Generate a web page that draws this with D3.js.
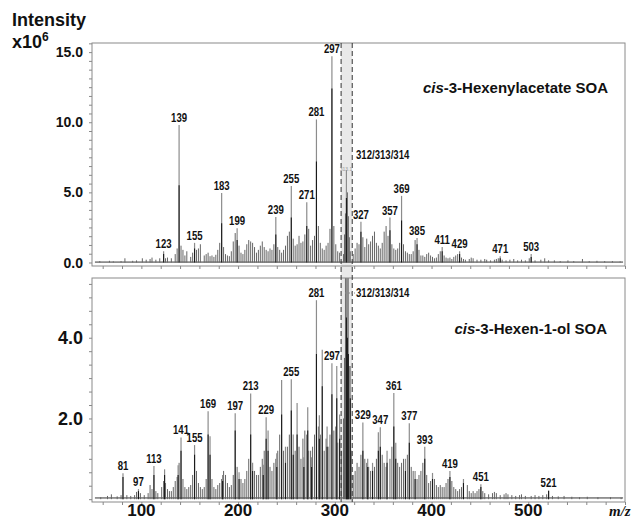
<!DOCTYPE html>
<html>
<head>
<meta charset="utf-8">
<script src="https://cdn.jsdelivr.net/npm/d3@7"></script>
<style>
  body { margin: 0; background: #fff; }
  svg { display: block; font-family: "Liberation Sans", Arial, sans-serif; }
  .plab { font-family: "Liberation Sans", Arial, sans-serif; font-weight: bold; font-size: 12px; fill: #111; }
</style>
</head>
<body>
<div id="chart"></div>
<script>
// m/z axis
var xDomain = [50, 600];
var xLabels = [100, 200, 300, 400, 500];
var topYLabels = [0, 5, 10, 15];
var botYLabels = [2, 4];
var bandMz = [306.5, 318];

// top panel: cis-3-Hexenylacetate SOA  [m/z, grey trace, black trace]
var topMain = [
  [123, 0.8, 0.6], [139, 9.8, 5.5], [155, 1.4, 1.0], [183, 4.95, 2.8], [199, 2.45, 1.6],
  [239, 3.25, 2.0], [255, 5.45, 3.2], [271, 4.3, 2.6], [281, 10.2, 7.2], [297, 14.7, 12.4],
  [312, 6.6, 4.6], [327, 2.9, 2.2], [357, 3.2, 2.3], [369, 4.75, 3.0], [385, 1.75, 1.3],
  [411, 1.1, 0.8], [429, 0.8, 0.6], [471, 0.45, 0.3], [503, 0.6, 0.4]
];
var topLabels = [123, 139, 155, 183, 199, 239, 255, 271, 281, 297, 327, 357, 369, 385, 411, 429, 471, 503];
var topMinor = [
  [57, 0.1], [67, 0.12], [71, 0.08], [79, 0.1], [83, 0.3], [91, 0.12], [95, 0.15], [101, 0.3],
  [105, 0.2], [109, 0.25], [111, 0.35], [115, 0.2], [119, 0.3], [125, 0.3], [127, 0.35], [131, 0.3],
  [135, 0.6], [137, 1.0], [141, 1.2], [143, 0.9], [145, 0.5], [147, 0.8], [151, 0.4], [153, 0.7],
  [157, 0.9], [159, 1.0], [161, 1.3], [165, 0.5], [167, 0.6], [169, 0.7], [171, 0.45], [173, 0.5],
  [175, 0.4], [177, 0.55], [179, 0.9], [181, 1.4], [185, 1.1], [187, 0.6], [189, 0.5], [191, 0.45],
  [193, 0.8], [195, 1.5], [197, 2.1], [201, 1.2], [203, 0.7], [205, 0.6], [207, 0.9], [209, 1.3],
  [211, 1.6], [213, 1.5], [215, 1.4], [217, 1.1], [219, 0.7], [221, 0.9], [223, 1.2], [225, 1.5],
  [227, 1.1], [229, 0.9], [231, 0.8], [233, 1.0], [235, 0.9], [237, 1.3], [241, 1.1], [243, 0.9],
  [245, 0.7], [247, 0.9], [249, 1.2], [251, 1.9], [253, 2.2], [257, 1.7], [259, 1.2], [261, 1.3],
  [263, 1.9], [265, 1.4], [267, 1.5], [269, 2.0], [273, 2.4], [275, 1.2], [277, 1.6], [279, 1.9],
  [283, 2.6], [285, 1.4], [287, 1.0], [289, 0.9], [291, 1.2], [293, 1.4], [295, 2.4], [299, 2.6],
  [301, 1.3], [303, 0.8], [305, 0.7], [309, 0.6], [310, 2.0], [311, 3.5], [313, 5.0], [314, 3.3],
  [315, 1.8], [316, 0.8], [319, 0.6], [321, 1.0], [323, 1.4], [325, 1.3], [329, 1.8], [331, 1.1],
  [333, 1.7], [335, 1.3], [337, 1.5], [339, 1.9], [341, 2.2], [343, 1.4], [345, 1.2], [347, 1.0],
  [349, 1.4], [351, 2.2], [353, 2.6], [355, 1.9], [359, 1.3], [361, 1.0], [363, 0.9], [365, 1.0],
  [367, 1.4], [371, 1.3], [373, 0.8], [375, 0.7], [377, 0.6], [379, 0.6], [381, 0.8], [383, 1.6],
  [387, 0.9], [389, 0.5], [391, 0.5], [393, 0.4], [395, 0.6], [397, 0.7], [399, 0.5], [401, 0.4],
  [403, 0.3], [405, 0.35], [407, 0.6], [409, 0.8], [413, 0.5], [415, 0.35], [417, 0.3], [419, 0.35],
  [421, 0.25], [423, 0.4], [425, 0.5], [427, 0.6], [431, 0.35], [433, 0.25], [435, 0.2], [439, 0.25],
  [441, 0.35], [443, 0.3], [447, 0.2], [451, 0.2], [455, 0.25], [457, 0.2], [461, 0.15], [465, 0.2],
  [467, 0.25], [469, 0.3], [473, 0.2], [477, 0.15], [481, 0.2], [485, 0.25], [489, 0.15], [493, 0.2],
  [497, 0.15], [501, 0.3], [507, 0.15], [513, 0.2], [517, 0.3], [521, 0.15], [527, 0.15], [533, 0.1],
  [541, 0.15], [547, 0.1], [556, 0.25], [563, 0.1], [571, 0.12], [579, 0.1], [587, 0.1], [595, 0.08]
];

// bottom panel: cis-3-Hexen-1-ol SOA  [m/z, grey trace, black trace]
var botMain = [
  [81, 0.64, 0.55], [97, 0.25, 0.2], [113, 0.82, 0.6], [124, 0.74, 0.6], [138, 0.84, 0.6],
  [141, 1.53, 1.2], [155, 1.34, 1.1], [169, 2.18, 1.6], [171, 1.56, 1.1], [184, 0.6, 0.45],
  [197, 2.13, 1.7], [201, 0.67, 0.5], [213, 2.62, 1.6], [215, 0.9, 0.7], [226, 0.85, 0.6],
  [229, 2.03, 1.5], [231, 1.7, 1.2], [240, 1.14, 0.8], [245, 2.95, 2.1], [249, 1.3, 0.9],
  [255, 2.97, 2.2], [257, 1.6, 1.1], [261, 2.38, 1.6], [268, 1.04, 0.8], [272, 2.28, 1.7],
  [276, 1.04, 0.8], [281, 4.93, 3.6], [284, 2.08, 1.5], [287, 3.7, 2.8], [292, 1.8, 1.3],
  [297, 3.37, 2.6], [302, 3.3, 2.5], [305, 2.1, 1.5], [312, 7.0, 4.5], [313, 6.5, 4.0],
  [314, 6.0, 3.6], [316, 3.3, 2.5], [329, 1.9, 1.2], [334, 1.0, 0.8], [339, 0.9, 0.7],
  [345, 1.66, 1.2], [347, 1.78, 1.3], [354, 1.2, 0.9], [361, 2.63, 1.8], [363, 1.4, 1.0],
  [373, 1.0, 0.7], [377, 1.88, 1.4], [383, 0.7, 0.5], [393, 1.3, 1.0], [401, 0.65, 0.5],
  [419, 0.7, 0.55], [433, 0.5, 0.4], [451, 0.37, 0.3], [521, 0.22, 0.2]
];
var botLabels = [81, 97, 113, 141, 155, 169, 197, 213, 229, 255, 281, 297, 329, 347, 361, 377, 393, 419, 451, 521];
var botMinor = [
  [58, 0.05], [65, 0.08], [69, 0.12], [75, 0.07], [79, 0.1], [85, 0.1], [89, 0.08], [93, 0.1],
  [95, 0.18], [99, 0.15], [103, 0.1], [107, 0.15], [109, 0.35], [111, 0.25], [115, 0.2], [117, 0.15],
  [121, 0.3], [123, 0.45], [125, 0.4], [127, 0.25], [129, 0.2], [131, 0.2], [133, 0.3], [135, 0.45],
  [137, 0.55], [139, 0.9], [143, 0.5], [145, 0.3], [147, 0.25], [149, 0.3], [151, 0.35], [153, 0.6],
  [157, 0.7], [159, 0.4], [161, 0.3], [163, 0.25], [165, 0.3], [167, 0.5], [173, 0.5], [175, 0.3],
  [177, 0.25], [179, 0.35], [181, 0.4], [183, 0.5], [185, 0.7], [187, 0.6], [189, 0.4], [191, 0.3],
  [193, 0.35], [195, 0.6], [199, 0.8], [203, 0.5], [205, 0.4], [207, 0.5], [209, 0.7], [211, 1.0],
  [217, 0.7], [219, 0.6], [221, 0.6], [223, 0.8], [225, 1.0], [227, 1.2], [233, 0.8], [235, 0.7],
  [237, 0.9], [239, 1.0], [241, 1.2], [243, 1.6], [247, 1.2], [251, 1.3], [253, 1.6], [259, 1.2],
  [263, 1.3], [265, 1.0], [267, 1.5], [269, 1.7], [271, 1.6], [273, 1.2], [275, 1.2], [277, 1.3],
  [279, 1.6], [283, 1.8], [285, 1.6], [289, 1.2], [291, 1.5], [293, 1.3], [295, 1.6], [299, 1.7],
  [301, 1.8], [303, 1.4], [307, 1.2], [309, 2.0], [310, 3.5], [311, 5.5], [315, 3.3], [317, 1.2],
  [319, 0.6], [321, 0.7], [323, 0.9], [325, 0.8], [327, 1.1], [331, 1.0], [333, 0.9], [335, 0.8],
  [337, 0.7], [341, 0.8], [343, 1.0], [349, 1.1], [351, 0.9], [353, 0.8], [357, 1.0], [359, 1.3],
  [365, 0.9], [367, 0.8], [369, 0.9], [371, 1.0], [375, 1.1], [379, 0.8], [381, 0.7], [385, 0.5],
  [387, 0.6], [389, 0.7], [391, 0.9], [395, 0.6], [397, 0.4], [399, 0.45], [403, 0.5], [405, 0.35],
  [407, 0.3], [409, 0.35], [411, 0.3], [413, 0.3], [415, 0.4], [417, 0.5], [421, 0.45], [423, 0.3],
  [425, 0.25], [427, 0.2], [429, 0.25], [431, 0.3], [437, 0.35], [439, 0.2], [441, 0.15], [443, 0.2],
  [445, 0.15], [447, 0.2], [449, 0.25], [453, 0.2], [455, 0.15], [459, 0.12], [463, 0.15], [465, 0.18],
  [467, 0.15], [471, 0.1], [475, 0.12], [477, 0.15], [479, 0.12], [483, 0.1], [487, 0.08], [491, 0.1],
  [493, 0.12], [497, 0.08], [503, 0.08], [507, 0.1], [511, 0.08], [515, 0.1], [519, 0.12], [525, 0.08],
  [531, 0.07], [537, 0.08], [545, 0.06], [553, 0.05], [561, 0.06], [572, 0.05], [585, 0.05], [596, 0.04]
];

var svgWidth = 636, svgHeight = 521;
var left = 92, right = 625;

var svg = d3.select("#chart").append("svg")
    .attr("width", svgWidth)
    .attr("height", svgHeight);

var x = d3.scaleLinear().domain(xDomain).range([93, 625]);

var panels = [
  { top: 43, bottom: 266, y: d3.scaleLinear().domain([-0.25, 15.65]).range([266, 43]),
    main: topMain, minor: topMinor, labels: topLabels, yLabels: topYLabels, minorStep: 0.625,
    yFont: 14, title: "-3-Hexenylacetate SOA", titleX: 608, titleY: 93, tagY: 159 },
  { top: 278, bottom: 502, y: d3.scaleLinear().domain([-0.07, 5.48]).range([502, 278]),
    main: botMain, minor: botMinor, labels: botLabels, yLabels: botYLabels, minorStep: 1 / 3,
    yFont: 18, title: "-3-Hexen-1-ol SOA", titleX: 607, titleY: 334, tagY: 297 }
];

// shaded band across both panels
svg.append("rect")
    .attr("x", x(bandMz[0])).attr("y", 43)
    .attr("width", x(bandMz[1]) - x(bandMz[0]))
    .attr("height", 502 - 43)
    .attr("fill", "#e9e9e9");

panels.forEach(function(p, i) {
    var g = svg.append("g");
    var clipId = "clip" + i;
    g.append("clipPath").attr("id", clipId)
      .append("rect").attr("x", left).attr("y", p.top).attr("width", right - left).attr("height", p.bottom - p.top);

    var plot = g.append("g").attr("clip-path", "url(#" + clipId + ")");

    // baseline noise
    plot.append("line")
        .attr("x1", x(52)).attr("x2", x(598))
        .attr("y1", p.y(0.03)).attr("y2", p.y(0.03))
        .attr("stroke", "#333").attr("stroke-width", 1);

    // minor peaks
    plot.selectAll(".minor").data(p.minor).enter().append("line")
        .attr("x1", d => x(d[0])).attr("x2", d => x(d[0]))
        .attr("y1", p.y(0)).attr("y2", d => p.y(d[1]))
        .attr("stroke", "#666").attr("stroke-width", 1);

    // main peaks: grey trace then black trace on top
    plot.selectAll(".grey").data(p.main).enter().append("line")
        .attr("x1", d => x(d[0])).attr("x2", d => x(d[0]))
        .attr("y1", p.y(0)).attr("y2", d => p.y(d[1]))
        .attr("stroke", "#8c8c8c").attr("stroke-width", 1.2);
    plot.selectAll(".black").data(p.main).enter().append("line")
        .attr("x1", d => x(d[0])).attr("x2", d => x(d[0]))
        .attr("y1", p.y(0)).attr("y2", d => p.y(d[2]))
        .attr("stroke", "#1a1a1a").attr("stroke-width", 1.1);

    // peak labels (narrowed)
    var byMz = {};
    p.main.forEach(d => byMz[d[0]] = d[1]);
    g.selectAll(".plab").data(p.labels).enter().append("text")
        .attr("class", "plab")
        .attr("transform", d => "translate(" + x(d) + "," + (p.y(byMz[d]) - 3) + ") scale(0.8,1)")
        .attr("text-anchor", "middle")
        .text(d => d);

    // 312/313/314 tag
    g.append("text").attr("class", "plab")
        .attr("transform", "translate(356," + p.tagY + ") scale(0.8,1)")
        .text("312/313/314");

    // frame
    g.append("rect")
        .attr("x", left).attr("y", p.top)
        .attr("width", right - left).attr("height", p.bottom - p.top)
        .attr("fill", "none").attr("stroke", "#8a8a8a").attr("stroke-width", 1);

    // y axis
    var yAxis = d3.axisLeft(p.y)
        .tickValues(d3.range(0, p.y.domain()[1], p.minorStep))
        .tickSize(3).tickFormat("");
    g.append("g").attr("transform", "translate(" + left + ",0)").call(yAxis)
        .call(a => a.select(".domain").remove())
        .selectAll("line").attr("stroke", "#888");
    g.selectAll(".ylab").data(p.yLabels).enter().append("text")
        .attr("x", 83).attr("y", d => p.y(d))
        .attr("dy", "0.36em")
        .attr("text-anchor", "end")
        .attr("font-weight", "bold").attr("font-size", p.yFont + "px")
        .attr("fill", "#111")
        .text(d => d3.format(".1f")(d));

    // x ticks
    var xAxis = d3.axisBottom(x).tickValues(d3.range(60, 601, 20)).tickSize(3).tickFormat("");
    g.append("g").attr("transform", "translate(0," + p.bottom + ")").call(xAxis)
        .call(a => a.select(".domain").remove())
        .selectAll("line").attr("stroke", "#888");

    // panel title
    var t = g.append("text")
        .attr("x", p.titleX).attr("y", p.titleY)
        .attr("text-anchor", "end")
        .attr("font-weight", "bold").attr("font-size", "15px").attr("fill", "#111");
    t.append("tspan").attr("font-style", "italic").text("cis");
    t.append("tspan").text(p.title);
});

// dashed markers
bandMz.forEach(function(m) {
    svg.append("line")
        .attr("x1", x(m)).attr("x2", x(m))
        .attr("y1", 43).attr("y2", 502)
        .attr("stroke", "#333").attr("stroke-width", 1)
        .attr("stroke-dasharray", "5,3");
});

// leader for bottom tag
svg.append("line").attr("x1", 345).attr("x2", 355).attr("y1", 293).attr("y2", 293)
    .attr("stroke", "#888").attr("stroke-dasharray", "2,1");

// tiny peak annotation in top panel
svg.append("text").attr("x", 346).attr("y", 171).attr("text-anchor", "middle")
    .attr("font-size", "5px").attr("fill", "#999").text("313.1");

// x labels
svg.selectAll(".xlab").data(xLabels).enter().append("text")
    .attr("x", d => x(d)).attr("y", 516)
    .attr("text-anchor", "middle")
    .attr("font-weight", "bold").attr("font-size", "17px").attr("fill", "#111")
    .text(d => d);

svg.append("text")
    .attr("x", 609).attr("y", 516)
    .attr("font-family", "'Liberation Serif', 'Times New Roman', serif")
    .attr("font-style", "italic").attr("font-weight", "bold").attr("font-size", "15px")
    .attr("fill", "#111")
    .text("m/z");

// y title
svg.append("text").attr("x", 12).attr("y", 26)
    .attr("font-weight", "bold").attr("font-size", "18px").attr("fill", "#111")
    .text("Intensity");
var yt = svg.append("text").attr("x", 12).attr("y", 48)
    .attr("font-weight", "bold").attr("font-size", "18px").attr("fill", "#111");
yt.append("tspan").text("x10");
yt.append("tspan").attr("dy", -7).attr("font-size", "12px").text("6");
</script>
</body>
</html>
